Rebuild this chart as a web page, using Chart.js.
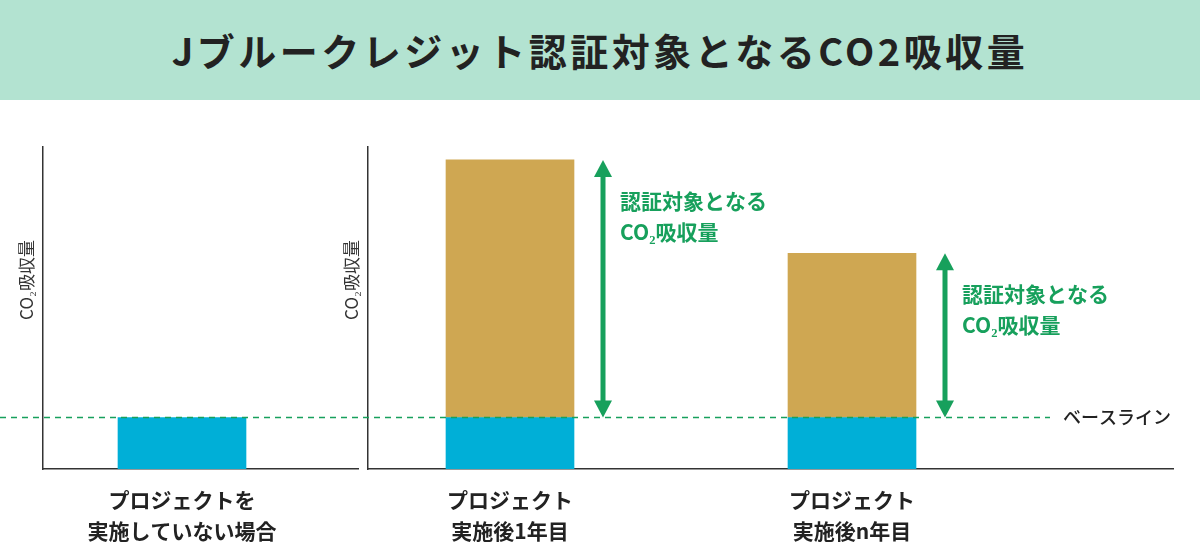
<!DOCTYPE html>
<html><head><meta charset="utf-8">
<script src="https://cdn.jsdelivr.net/npm/chart.js@4/dist/chart.umd.min.js"></script>
<style>
body{margin:0;width:1200px;height:560px;background:#fff;font-family:"Noto Sans CJK JP",sans-serif;overflow:hidden;position:relative}
#title{position:absolute;left:0;top:0;width:1200px;height:100px;background:#b3e3d1;color:#222;font-weight:bold;font-size:38px;letter-spacing:3.5px;text-align:center;line-height:100px}
canvas{position:absolute;left:0;top:100px}
</style></head><body>
<div id="title">Jブルークレジット認証対象となるCO2吸収量</div>
<canvas id="c1" width="1200" height="460"></canvas>
<canvas id="c2" width="1200" height="460"></canvas>
<script>
const leftCategories=['プロジェクトを\n実施していない場合'];
const leftBaseline=[16];
const rightCategories=['プロジェクト\n実施後1年目','プロジェクト\n実施後n年目'];
const rightBaseline=[16,16];
const rightCredit=[80,51];
const yTitle='CO₂吸収量';
const creditLabel=['認証対象となる','CO₂吸収量'];
const baselineLabel='ベースライン';
const BLUE='#00afd7',GOLD='#cfa752',GREEN='#17a05c',AX='#333';

function opts(pad,xmin,xmax){
 return {responsive:false,animation:false,maintainAspectRatio:false,
  layout:{padding:pad},
  plugins:{legend:{display:false},tooltip:{enabled:false}},
  scales:{
   x:{type:'linear',offset:false,stacked:true,min:xmin,max:xmax,ticks:{display:false},grid:{display:false,drawTicks:false},border:{display:true,color:AX,width:1.5}},
   y:{stacked:true,min:0,max:100,ticks:{display:false},grid:{display:false,drawTicks:false},border:{display:true,color:AX,width:1.5}}
  }};
}
function labelsPlugin(cats){
 return {id:'lbl',afterDraw(ch){
  const c=ch.ctx,a=ch.chartArea,x=ch.scales.x;
  c.save();
  c.fillStyle='#333';c.font='17px "Noto Sans CJK JP"';c.textAlign='center';c.textBaseline='middle';
  c.translate(a.left-16,a.top+133);c.rotate(-Math.PI/2);c.fillText(yTitle,0,0);c.restore();
  c.save();c.fillStyle='#222';c.font='bold 21px "Noto Sans CJK JP"';c.textAlign='center';c.textBaseline='middle';
  cats.forEach((t,i)=>{t.split('\n').forEach((l,j)=>c.fillText(l,x.getPixelForValue(i+1),a.bottom+31+j*31));});
  c.restore();
 }};
}
const extra={id:'extra',afterDatasetsDraw(ch){
 const c=ch.ctx,x=ch.scales.x,y=ch.scales.y;
 const by=y.getPixelForValue(rightBaseline[0]);
 c.save();c.strokeStyle=GREEN;c.lineWidth=1.5;c.setLineDash([6,5]);
 c.beginPath();c.moveTo(0,by);c.lineTo(1050,by);c.stroke();c.setLineDash([]);
 c.fillStyle='#222';c.font='500 18px "Noto Sans CJK JP"';c.textBaseline='middle';c.textAlign='left';
 c.fillText(baselineLabel,1063,by);
 rightCredit.forEach((v,i)=>{
  const ax=x.getPixelForValue(i+1)+93;
  const top=y.getPixelForValue(rightBaseline[i]+v),bot=y.getPixelForValue(rightBaseline[i]);
  c.strokeStyle=GREEN;c.fillStyle=GREEN;c.lineWidth=5;
  c.beginPath();c.moveTo(ax,top+14);c.lineTo(ax,bot-14);c.stroke();
  c.beginPath();c.moveTo(ax,top);c.lineTo(ax-9,top+17);c.lineTo(ax+9,top+17);c.closePath();c.fill();
  c.beginPath();c.moveTo(ax,bot);c.lineTo(ax-9,bot-17);c.lineTo(ax+9,bot-17);c.closePath();c.fill();
  c.font='bold 21px "Noto Sans CJK JP"';
  c.fillText(creditLabel[0],ax+17,top+41);c.fillText(creditLabel[1],ax+17,top+72);
 });
 c.restore();
}};
const U=342;
new Chart(document.getElementById('c1'),{type:'bar',
 data:{datasets:[{data:leftBaseline.map((v,i)=>({x:i+1,y:v})),backgroundColor:BLUE,barThickness:128}]},
 options:opts({left:43,right:842,top:47,bottom:91},1-139/U,1+176/U),plugins:[labelsPlugin(leftCategories)]});
new Chart(document.getElementById('c2'),{type:'bar',
 data:{datasets:[
  {data:rightBaseline.map((v,i)=>({x:i+1,y:v})),backgroundColor:BLUE,barThickness:128},
  {data:rightCredit.map((v,i)=>({x:i+1,y:v})),backgroundColor:GOLD,barThickness:128}]},
 options:opts({left:368,right:27,top:47,bottom:91},1-142/U,1+663/U),plugins:[labelsPlugin(rightCategories),extra]});
</script></body></html>
